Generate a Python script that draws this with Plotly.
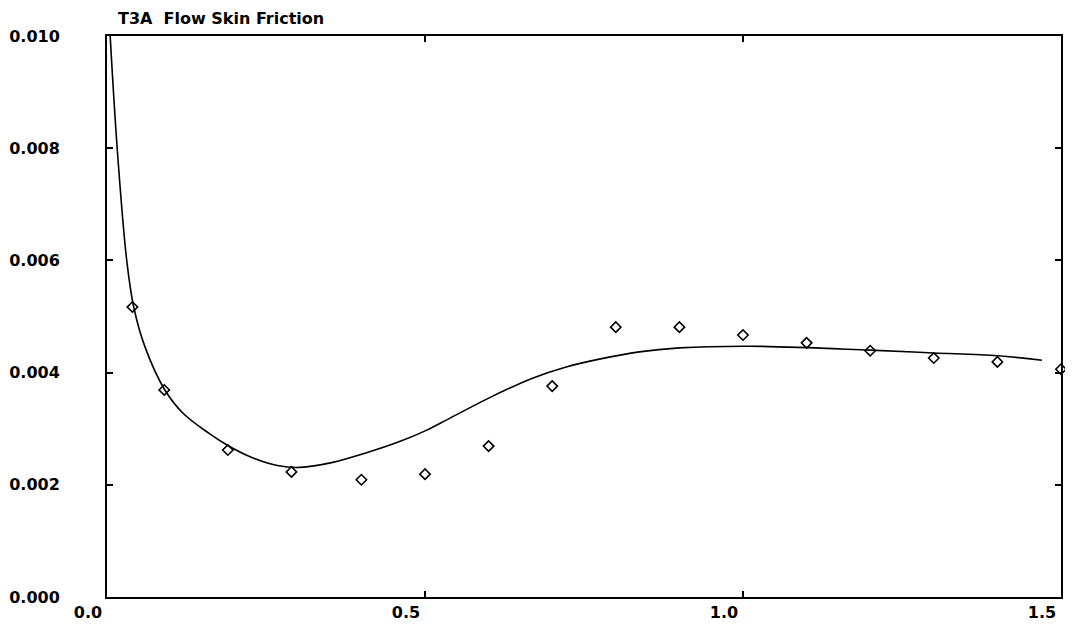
import plotly.graph_objects as go

# measured skin friction (symbols)
x_exp = [0.04, 0.09, 0.19, 0.29, 0.40, 0.50, 0.60, 0.70, 0.80, 0.90, 1.00, 1.10, 1.20, 1.30, 1.40, 1.50]
cf_exp = [0.00517, 0.00369, 0.00262, 0.00223, 0.00209, 0.00219, 0.00269, 0.00376,
          0.00481, 0.00481, 0.00467, 0.00453, 0.00439, 0.00426, 0.00419, 0.00406]

# computed skin friction (solid line)
x_calc = [0.004, 0.016, 0.031, 0.042, 0.06, 0.091, 0.12, 0.16, 0.19, 0.225, 0.27, 0.303,
          0.355, 0.408, 0.46, 0.502, 0.538, 0.601, 0.669, 0.722, 0.774, 0.837, 0.90, 1.01,
          1.20, 1.30, 1.40, 1.47]
cf_calc = [0.0102, 0.0080, 0.0060, 0.00517, 0.00445, 0.00369, 0.00327, 0.00292, 0.00270,
           0.00250, 0.00234, 0.00231, 0.00240, 0.00257, 0.00277, 0.00297, 0.00318, 0.00355,
           0.00390, 0.00410, 0.00424, 0.00437, 0.00444, 0.00447, 0.00440, 0.00435,
           0.00430, 0.00422]

fig = go.Figure()
fig.add_trace(go.Scatter(x=x_calc, y=cf_calc, mode="lines",
                         line=dict(color="black", width=1.6, shape="spline", smoothing=1.0),
                         showlegend=False))
fig.add_trace(go.Scatter(x=x_exp, y=cf_exp, mode="markers",
                         marker=dict(symbol="diamond-open", size=8, color="black",
                                     line=dict(width=1.6, color="black")),
                         cliponaxis=False, showlegend=False))

family = "DejaVu Sans, Arial, sans-serif"
fnt = dict(family=family, size=16, color="black")

fig.update_layout(
    width=1073, height=625,
    margin=dict(l=99, r=20, t=28, b=36, autoexpand=False),
    paper_bgcolor="white", plot_bgcolor="white",
    font=fnt,
    title=dict(text="<b>T3A  Flow Skin Friction</b>", x=110 / 1073, xanchor="left",
               y=1 - 10 / 625, yanchor="middle", font=dict(size=16, family=family)),
)
fig.update_xaxes(range=[0, 1.5], tickvals=[0, 0.5, 1.0, 1.5],
                 ticktext=["<b>0.0</b>", "<b>0.5</b>", "<b>1.0</b>", "<b>1.5</b>"],
                 ticks="inside", ticklen=6, tickwidth=1.5, tickcolor="black",
                 ticklabelshift=-19, ticklabelstandoff=0, automargin=False,
                 showline=True, linecolor="black", linewidth=2, mirror="ticks",
                 showgrid=False, zeroline=False)
fig.update_yaxes(range=[0, 0.010], tickvals=[0, 0.002, 0.004, 0.006, 0.008, 0.010],
                 ticktext=["<b>0.000</b>", "<b>0.002</b>", "<b>0.004</b>", "<b>0.006</b>",
                           "<b>0.008</b>", "<b>0.010</b>"],
                 ticks="inside", ticklen=6, tickwidth=1.5, tickcolor="black",
                 ticklabelstandoff=42, automargin=False,
                 showline=True, linecolor="black", linewidth=2, mirror="ticks",
                 showgrid=False, zeroline=False)

fig.write_html("out.html")
